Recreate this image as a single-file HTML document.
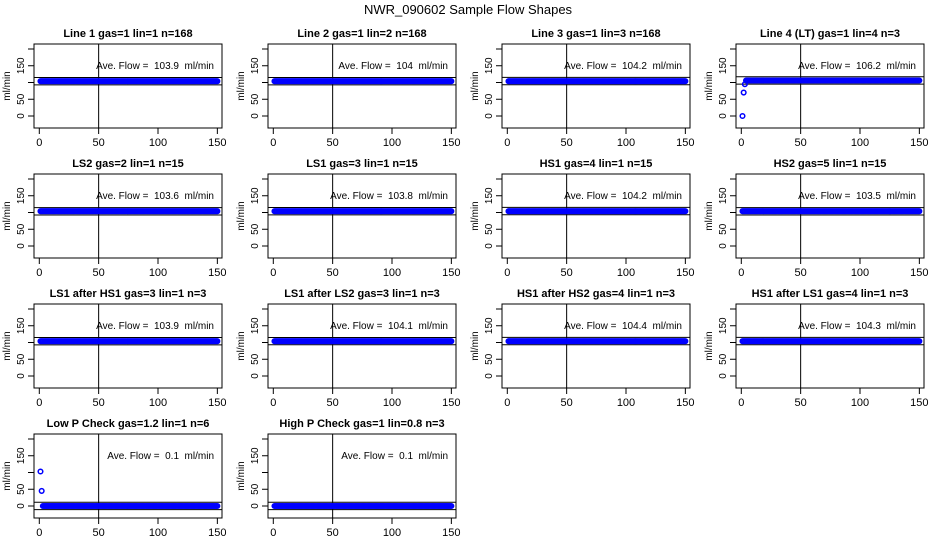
<!DOCTYPE html>
<html><head><meta charset="utf-8"><style>
body{margin:0;background:#fff}
svg{display:block;font-family:"Liberation Sans",sans-serif}
</style></head><body>
<svg id="c" width="936" height="540">
<text x="468" y="14" text-anchor="middle" font-size="13">NWR_090602  Sample Flow Shapes</text>
</svg>
<script>
const titles=["Line 1 gas=1 lin=1 n=168","Line 2 gas=1 lin=2 n=168","Line 3 gas=1 lin=3 n=168","Line 4 (LT) gas=1 lin=4 n=3","LS2 gas=2 lin=1 n=15","LS1 gas=3 lin=1 n=15","HS1 gas=4 lin=1 n=15","HS2 gas=5 lin=1 n=15","LS1 after HS1 gas=3 lin=1 n=3","LS1 after LS2 gas=3 lin=1 n=3","HS1 after HS2 gas=4 lin=1 n=3","HS1 after LS1 gas=4 lin=1 n=3","Low P Check gas=1.2 lin=1 n=6","High P Check gas=1 lin=0.8 n=3"];
const averages=[103.9,104,104.2,106.2,103.6,103.8,104.2,103.5,103.9,104.1,104.4,104.3,0.1,0.1];
const avgLabels=["103.9","104","104.2","106.2","103.6","103.8","104.2","103.5","103.9","104.1","104.4","104.3","0.1","0.1"];
const steadyFlow=[104,104,104,106,104,104,104,104,104,104,104,104,0,0];
const startFlow=[[],[],[],[0,70,95],[],[],[],[],[],[],[],[],[103,45],[]];
const xTicks=[0,50,100,150];
const yTicks=[0,50,100,150,200];
const yLabels=["0","50","","150",""];
const NS="http://www.w3.org/2000/svg";
const svg=document.getElementById('c');
function mk(t,a,p){const e=document.createElementNS(NS,t);for(const k in a)e.setAttribute(k,a[k]);(p||svg).appendChild(e);return e;}
const W=188,H=84;
titles.forEach((t,i)=>{
  const col=i%4,row=Math.floor(i/4);
  const L=34+col*234,T=44+row*130;
  const g=mk('g',{});
  
  
  const xs=v=>L+5.3+v*1.187;
  const ys=v=>T+72-v*0.335;
  const tt=mk('text',{x:L+W/2,y:T-7,'text-anchor':'middle','font-size':11,'font-weight':'bold'},g);tt.textContent=t;
  
  const box=mk('rect',{x:L,y:T,width:W,height:H,fill:'none',stroke:'#000','stroke-width':1},g);
  
  xTicks.forEach(v=>{
    const l=mk('line',{x1:xs(v),x2:xs(v),y1:T+H,y2:T+H+6,stroke:'#000'},g);
    
    const tx=mk('text',{x:xs(v),y:T+H+18,'text-anchor':'middle','font-size':11},g);tx.textContent=v;
    
  });
  yTicks.forEach((v,k)=>{
    const l=mk('line',{x1:L-6,x2:L,y1:ys(v),y2:ys(v),stroke:'#000'},g);
    
    if(yLabels[k]){const tx=mk('text',{x:0,y:0,'text-anchor':'middle','font-size':10,transform:`translate(${L-10},${ys(v)}) rotate(-90)`},g);tx.textContent=yLabels[k];
    }
  });
  const yl=mk('text',{x:0,y:0,'text-anchor':'middle','font-size':10,transform:`translate(${L-24},${T+H/2}) rotate(-90)`},g);yl.textContent='ml/min';
  
  const vl=mk('line',{x1:xs(50),x2:xs(50),y1:T,y2:T+H,stroke:'#000'},g);
  
  [averages[i]+11,averages[i]-11].forEach(v=>{
    const h=mk('line',{x1:L,x2:L+W,y1:ys(v),y2:ys(v),stroke:'#000'},g);
    
  });
  const vals=startFlow[i].slice();
  while(vals.length<150)vals.push(steadyFlow[i]);
  vals.forEach((v,k)=>{
    const c=mk('circle',{cx:xs(k+1),cy:ys(v),r:2.3,fill:'none',stroke:'#0000ff','stroke-width':1.5},g);
    
  });
  const at=mk('text',{x:L+W-8,y:T+25,'text-anchor':'end','font-size':10},g);
  at.textContent='Ave. Flow =  '+avgLabels[i]+'  ml/min';
  at.setAttribute('xml:space','preserve');
  at.style.whiteSpace='pre';
  
});
</script>
</body></html>
